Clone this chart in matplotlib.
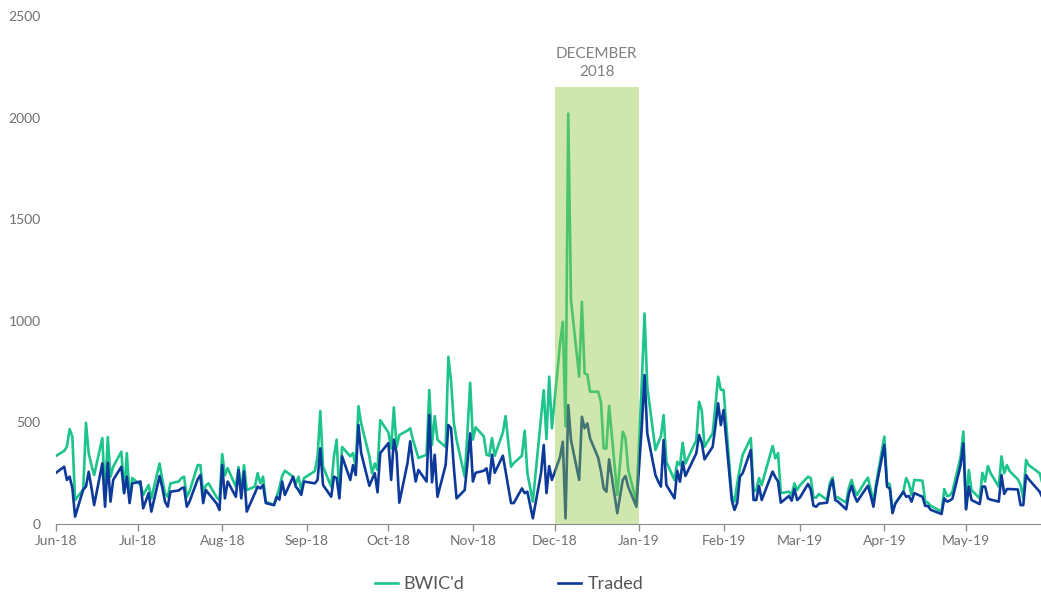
import matplotlib
matplotlib.use('Agg')
import matplotlib.pyplot as plt
import matplotlib.dates as mdates
import numpy as np
import pandas as pd

plt.rcParams['font.family'] = ['Lato', 'DejaVu Sans']

# market holidays skipped in the daily series
holidays = ['2018-07-04', '2018-09-03', '2018-11-22', '2018-12-25', '2019-01-01',
            '2019-01-21', '2019-02-18', '2019-04-19', '2019-05-27']

# BWIC'd volume, one value per business day (month by month)
bwic = [
    # Jun-18
    335, 360, 380, 467, 430, 118, 170, 498, 349, 290, 241, 423, 134, 428, 233, 282, 356, 152, 349, 134, 226,
    # Jul-18
    192, 143, 192, 126, 298, 220, 150, 134, 200, 209, 225, 233, 134, 160, 290, 290, 152, 190, 200, 130, 118,
    # Aug-18
    344, 240, 275, 184, 280, 152, 290, 167, 184, 250, 200, 233, 110, 93, 134, 180, 236, 262, 233, 197, 233, 167, 226,
    # Sep-18
    260, 333, 556, 282, 184, 333, 415, 134, 379, 333, 349, 282, 580, 495, 333, 250, 298, 266, 511,
    # Oct-18
    450, 372, 574, 380, 438, 460, 471, 415, 370, 325, 341, 659, 389, 531, 415, 379, 823, 700, 500, 415, 233, 450, 695,
    # Nov-18
    415, 476, 431, 341, 336, 423, 336, 450, 531, 400, 282, 300, 336, 459, 250, 110, 520, 659, 418, 725, 471,
    # Dec-18
    889, 995, 480, 2020, 1102, 725, 1094, 741, 736, 651, 651, 600, 372, 372, 581, 143, 454, 422, 266, 110,
    # Jan-19
    700, 1036, 675, 364, 400, 430, 536, 306, 216, 306, 290, 400, 298, 413, 602, 560, 380, 446, 580, 725, 660,
    # Feb-19
    660, 143, 110, 200, 275, 340, 423, 160, 167, 226, 192, 384, 323, 349, 152, 159, 143, 200, 167,
    # Mar-19
    190, 233, 226, 130, 130, 148, 118, 200, 229, 134, 130, 105, 180, 217, 170, 143, 210, 228, 170, 103, 200,
    # Apr-19
    430, 200, 197, 61, 100, 159, 226, 200, 143, 217, 213, 110, 105, 90, 61, 172, 138, 140, 160, 330, 455,
    # May-19
    77, 266, 167, 126, 252, 209, 285, 250, 184, 333, 250, 290, 260, 220, 192, 126, 315, 290, 250, 200, 230, 210,
]

# Traded volume
traded = [
    # Jun-18
    252, 282, 217, 233, 177, 36, 170, 184, 257, 180, 93, 299, 85, 302, 110, 217, 282, 152, 233, 103, 200,
    # Jul-18
    209, 77, 152, 61, 236, 180, 110, 85, 159, 165, 175, 180, 85, 110, 220, 241, 103, 167, 150, 100, 69,
    # Aug-18
    290, 126, 209, 134, 266, 126, 258, 61, 152, 184, 175, 192, 103, 93, 134, 120, 209, 143, 233, 184, 167, 143, 209,
    # Sep-18
    200, 217, 372, 192, 134, 233, 226, 126, 333, 217, 290, 241, 487, 349, 188, 220, 250, 156, 349,
    # Oct-18
    398, 217, 415, 349, 105, 300, 407, 300, 209, 266, 209, 536, 205, 341, 134, 290, 487, 471, 280, 126, 167, 300, 446,
    # Nov-18
    209, 252, 262, 274, 200, 341, 252, 336, 260, 180, 103, 103, 175, 152, 159, 28, 250, 389, 152, 285, 217,
    # Dec-18
    330, 405, 28, 585, 413, 217, 528, 471, 495, 422, 325, 260, 175, 159, 318, 53, 217, 236, 184, 85,
    # Jan-19
    480, 733, 446, 241, 210, 184, 413, 192, 126, 262, 208, 306, 236, 348, 438, 400, 318, 380, 480, 594, 487,
    # Feb-19
    561, 118, 69, 103, 233, 250, 364, 118, 118, 188, 118, 258, 230, 209, 105, 138, 115, 172, 118,
    # Mar-19
    130, 197, 170, 90, 85, 100, 105, 180, 217, 118, 110, 72, 150, 188, 140, 110, 170, 188, 140, 85, 180,
    # Apr-19
    389, 184, 175, 53, 100, 159, 134, 138, 110, 152, 134, 89, 89, 70, 49, 126, 110, 115, 125, 290, 397,
    # May-19
    72, 184, 118, 98, 184, 184, 126, 120, 110, 241, 148, 172, 172, 170, 93, 93, 241, 220, 159, 130, 150, 140,
]

dates = pd.bdate_range('2018-06-01', '2019-05-31', freq='C', holidays=holidays)
assert len(dates) == len(bwic) == len(traded), (len(dates), len(bwic), len(traded))

green = '#1dc48b'
blue = '#0d3a9a'
grey = '#6f6f6f'

fig = plt.figure(figsize=(10.41, 5.94), dpi=100)
ax = fig.add_axes([56 / 1041, 1 - 524 / 594, 1 - 56 / 1041, (524 - 16) / 594])

ax.plot(dates, bwic, color=green, lw=1.9, label="BWIC'd", zorder=2)
ax.plot(dates, traded, color=blue, lw=1.9, label='Traded', zorder=2)

# December 2018 highlight, drawn over the lines
ax.axvspan(pd.Timestamp('2018-12-01'), pd.Timestamp('2019-01-01'), ymin=0, ymax=2150 / 2500,
           color='#8dc63f', alpha=0.42, lw=0, zorder=3)
ax.text(pd.Timestamp('2018-12-16 12:00'), 2268, 'DECEMBER\n2018', ha='center', va='center',
        color='#808080', fontsize=11, linespacing=1.3)

ax.set_ylim(0, 2500)
ax.set_xlim(pd.Timestamp('2018-06-01'), pd.Timestamp('2019-05-28 12:00'))
ax.set_yticks(np.arange(0, 2501, 500))

ax.xaxis.set_major_locator(mdates.MonthLocator())
ax.xaxis.set_major_formatter(mdates.DateFormatter('%b-%y'))

for s in ['top', 'right', 'left']:
    ax.spines[s].set_visible(False)
ax.spines['bottom'].set_color('#8c8c8c')
ax.tick_params(axis='x', colors='#8c8c8c', length=5, width=1, labelcolor=grey, labelsize=10, pad=3)
ax.tick_params(axis='y', length=0, labelcolor=grey, labelsize=10, pad=11)

fig.legend(loc='center', bbox_to_anchor=(0.489, 0.017), ncol=2, frameon=False,
           fontsize=13, handlelength=1.25, handletextpad=0.35, columnspacing=5.2,
           labelcolor='#555555')

fig.savefig('out.png', dpi=100)
